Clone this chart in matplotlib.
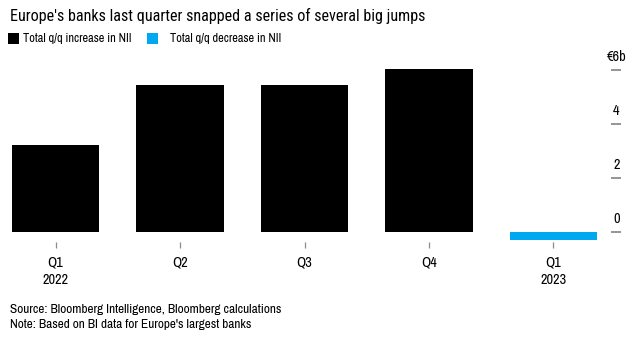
"""Quarterly change in net interest income at Europe's largest banks."""
import matplotlib.pyplot as plt
from matplotlib.patches import Rectangle

# Quarter-on-quarter change in NII, EUR billions
QUARTERS = ["Q1\n2022", "Q2", "Q3", "Q4", "Q1\n2023"]
NII_CHANGE = [3.22, 5.43, 5.43, 6.03, -0.30]
Y_TICKS = [0, 2, 4, 6]
Y_TICK_LABELS = ["0", "2", "4", "€6b"]

INK = "#000000"
TICK_GREY = "#8c8c8c"
UP_COLOR = "#000000"
DOWN_COLOR = "#00a8f2"

TITLE_FONT = ["Roboto Condensed", "DejaVu Sans"]
plt.rcParams["font.family"] = ["Archivo Narrow", "Roboto Condensed", "DejaVu Sans"]

fig = plt.figure(figsize=(6.42, 3.45), dpi=100)
fig.set_facecolor("white")
ax = fig.add_axes((0.0187, 0.3, 0.9112, 0.5203))

colors = [UP_COLOR if v >= 0 else DOWN_COLOR for v in NII_CHANGE]
ax.bar(range(len(QUARTERS)), NII_CHANGE, width=0.7, color=colors, zorder=3)

ax.set_xlim(-0.35, len(QUARTERS) - 0.65)
ax.set_ylim(-0.35, 6.3)

for spine in ax.spines.values():
    spine.set_visible(False)
ax.spines["right"].set_position(("outward", 10))

ax.set_xticks(range(len(QUARTERS)))
ax.set_xticklabels(QUARTERS, fontsize=10.3, color=INK, linespacing=1.3)
ax.tick_params(axis="x", length=4, width=0.9, color=TICK_GREY, pad=6)

# value ticks on the right, with the labels sitting above each tick mark
ax.yaxis.tick_right()
ax.set_yticks(Y_TICKS)
ax.set_yticklabels([])
ax.tick_params(axis="y", length=7.2, width=1.3, color=TICK_GREY, direction="out")
for v, lab in zip(Y_TICKS, Y_TICK_LABELS):
    ax.annotate(lab, xy=(1, v), xycoords=ax.get_yaxis_transform(),
                xytext=(14, 9.5), textcoords="offset points",
                ha="center", va="center", fontsize=10.3, color=INK,
                annotation_clip=False)

fig.text(0.0156, 0.955, "Europe's banks last quarter snapped a series of several big jumps",
         fontsize=11.6, family=TITLE_FONT, color=INK, ha="left", va="center")

# legend: colored squares followed by labels
legend_items = [("Total q/q increase in NII", UP_COLOR, 0.0125, 0.0358),
                ("Total q/q decrease in NII", DOWN_COLOR, 0.2290, 0.2648)]
for label, color, box_x, text_x in legend_items:
    fig.patches.append(Rectangle((box_x, 0.8725), 0.0171, 0.0319, transform=fig.transFigure,
                                 facecolor=color, edgecolor="none"))
    fig.text(text_x, 0.887, label, fontsize=8.9, color=INK, ha="left", va="center")

fig.text(0.0156, 0.102, "Source: Bloomberg Intelligence, Bloomberg calculations",
         fontsize=9.6, color=INK, ha="left", va="center")
fig.text(0.0156, 0.058, "Note: Based on BI data for Europe's largest banks",
         fontsize=9.6, color=INK, ha="left", va="center")

fig.savefig("out.png", dpi=100, facecolor="white")
